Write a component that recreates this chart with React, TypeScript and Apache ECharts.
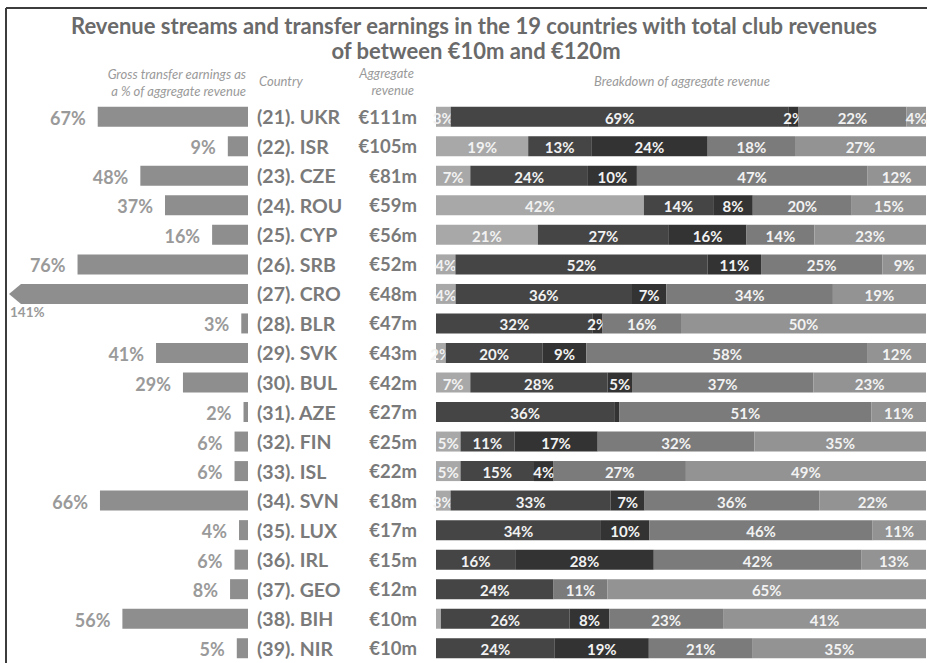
import React, { useEffect, useRef } from "react";
import * as echarts from "echarts";

const countries = [
  "(21). UKR", "(22). ISR", "(23). CZE", "(24). ROU", "(25). CYP", "(26). SRB", "(27). CRO",
  "(28). BLR", "(29). SVK", "(30). BUL", "(31). AZE", "(32). FIN", "(33). ISL", "(34). SVN",
  "(35). LUX", "(36). IRL", "(37). GEO", "(38). BIH", "(39). NIR",
];
const revenues = [
  "€111m", "€105m", "€81m", "€59m", "€56m", "€52m", "€48m", "€47m", "€43m", "€42m",
  "€27m", "€25m", "€22m", "€18m", "€17m", "€15m", "€12m", "€10m", "€10m",
];
const transferPct = [67, 9, 48, 37, 16, 76, 141, 3, 41, 29, 2, 6, 6, 66, 4, 6, 8, 56, 5];

// Breakdown of aggregate revenue (five revenue streams, left to right)
const streamA = [3, 19, 7, 42, 21, 4, 4, 0, 2, 7, 0, 5, 5, 3, 0, 0, 0, 1, 0];
const streamB = [69, 13, 24, 14, 27, 52, 36, 32, 20, 28, 36, 11, 15, 33, 34, 16, 24, 26, 24];
const streamC = [2, 24, 10, 8, 16, 11, 7, 2, 9, 5, 1, 17, 4, 7, 10, 28, 0, 8, 19];
const streamD = [22, 18, 47, 20, 14, 25, 34, 16, 58, 37, 51, 32, 27, 36, 46, 42, 11, 23, 21];
const streamE = [4, 27, 12, 15, 23, 9, 19, 50, 12, 23, 11, 35, 49, 22, 11, 13, 65, 41, 35];

const streams = [streamA, streamB, streamC, streamD, streamE];
const streamColors = ["#a8a8a8", "#454545", "#333333", "#7b7b7b", "#939393"];

const FONT = "Lato, 'Open Sans', sans-serif";
const LEFT_MAX = 107;

export default function App() {
  const ref = useRef<HTMLDivElement>(null);

  useEffect(() => {
    if (!ref.current) return;
    const chart = echarts.init(ref.current, undefined, { renderer: "svg" });

    const leftData = transferPct.map((v, i) => [v, i]);
    const breakdownData = countries.map((_, i) => [i, ...streams.map((s) => s[i])]);

    const option: any = {
      animation: false,
      backgroundColor: "#ffffff",
      textStyle: { fontFamily: FONT },
      grid: [
        { left: 8, width: 240, top: 102, height: 561 },
        { left: 436, right: 1, top: 102, height: 561 },
      ],
      xAxis: [
        { gridIndex: 0, type: "value", min: 0, max: LEFT_MAX, inverse: true, show: false },
        { gridIndex: 1, type: "value", min: 0, max: 100, show: false },
      ],
      yAxis: [
        {
          gridIndex: 0,
          type: "category",
          data: countries,
          inverse: true,
          position: "right",
          axisLine: { show: false },
          axisTick: { show: false },
          axisLabel: {
            align: "left",
            margin: 9,
            fontFamily: FONT,
            fontWeight: "bold",
            fontSize: 19.5,
            color: "#7a7a7a",
          },
        },
        {
          gridIndex: 1,
          type: "category",
          data: countries,
          inverse: true,
          position: "left",
          axisLine: { show: false },
          axisTick: { show: false },
          axisLabel: {
            align: "right",
            margin: 19,
            fontFamily: FONT,
            fontWeight: "bold",
            fontSize: 18.5,
            color: "#7a7a7a",
            formatter: (_v: string, idx: number) => revenues[idx],
          },
        },
      ],
      series: [
        {
          type: "custom",
          xAxisIndex: 0,
          yAxisIndex: 0,
          clip: false,
          data: leftData,
          renderItem: (params: any, api: any) => {
            const v = api.value(0);
            const idx = api.value(1);
            const [x0, yc] = api.coord([0, idx]);
            const h = 20;
            const labelStyle = {
              fontFamily: FONT,
              fontWeight: "bold",
              fontSize: 18,
              fill: "#9a9a9a",
            };
            if (v > LEFT_MAX) {
              const xl = api.coord([LEFT_MAX, idx])[0];
              return {
                type: "group",
                children: [
                  {
                    type: "polygon",
                    shape: {
                      points: [
                        [xl + 1, yc],
                        [xl + 13, yc - h / 2],
                        [x0, yc - h / 2],
                        [x0, yc + h / 2],
                        [xl + 13, yc + h / 2],
                      ],
                    },
                    style: { fill: "#8e8e8e" },
                  },
                  {
                    type: "text",
                    x: xl + 2,
                    y: yc + 18,
                    style: {
                      ...labelStyle,
                      fontSize: 13.5,
                      text: v + "%",
                      textAlign: "left",
                      textVerticalAlign: "middle",
                    },
                  },
                ],
              };
            }
            const x1 = api.coord([v, idx])[0];
            return {
              type: "group",
              children: [
                {
                  type: "rect",
                  shape: { x: x1, y: yc - h / 2, width: x0 - x1, height: h },
                  style: { fill: "#8e8e8e" },
                },
                {
                  type: "text",
                  x: x1 - 12,
                  y: yc + 1,
                  style: {
                    ...labelStyle,
                    text: v + "%",
                    textAlign: "right",
                    textVerticalAlign: "middle",
                  },
                },
              ],
            };
          },
        },
        {
          type: "custom",
          xAxisIndex: 1,
          yAxisIndex: 1,
          data: breakdownData,
          renderItem: (params: any, api: any) => {
            const idx = api.value(0);
            const vals = [1, 2, 3, 4, 5].map((k) => api.value(k));
            const total = vals.reduce((a: number, b: number) => a + b, 0);
            const h = 20;
            const children: any[] = [];
            let cum = 0;
            vals.forEach((v: number, k: number) => {
              if (v <= 0) return;
              const start = (cum * 100) / total;
              const end = ((cum + v) * 100) / total;
              cum += v;
              const [xs, yc] = api.coord([start, idx]);
              const xe = api.coord([end, idx])[0];
              children.push({
                type: "rect",
                shape: { x: xs, y: yc - h / 2, width: xe - xs, height: h },
                style: { fill: streamColors[k] },
              });
              if (v >= 2) {
                children.push({
                  type: "text",
                  x: (xs + xe) / 2,
                  y: yc + 1,
                  style: {
                    text: v + "%",
                    fontFamily: FONT,
                    fontWeight: "bold",
                    fontSize: 15,
                    fill: "#f2f2f2",
                    textAlign: "center",
                    textVerticalAlign: "middle",
                  },
                });
              }
            });
            return { type: "group", children };
          },
        },
      ],
      graphic: [
        { type: "line", shape: { x1: 6, y1: 8, x2: 927, y2: 8 }, style: { stroke: "#3c3c3c", lineWidth: 2 } },
        { type: "line", shape: { x1: 6, y1: 8, x2: 6, y2: 663 }, style: { stroke: "#3c3c3c", lineWidth: 2 } },
        {
          type: "text",
          x: 474,
          y: 25,
          style: {
            text: "Revenue streams and transfer earnings in the 19 countries with total club revenues",
            fontFamily: FONT,
            fontWeight: "bold",
            fontSize: 22,
            fill: "#6a6a6a",
            textAlign: "center",
            textVerticalAlign: "middle",
          },
        },
        {
          type: "text",
          x: 476,
          y: 50,
          style: {
            text: "of between €10m and €120m",
            fontFamily: FONT,
            fontWeight: "bold",
            fontSize: 22,
            fill: "#6a6a6a",
            textAlign: "center",
            textVerticalAlign: "middle",
          },
        },
        ...[
          { t: "Gross transfer earnings as", x: 246, y: 74, a: "right" },
          { t: "a % of aggregate revenue", x: 246, y: 91, a: "right" },
          { t: "Country", x: 259, y: 81, a: "left" },
          { t: "Aggregate", x: 414, y: 73, a: "right" },
          { t: "revenue", x: 414, y: 90, a: "right" },
          { t: "Breakdown of aggregate revenue", x: 682, y: 81, a: "center" },
        ].map((h) => ({
          type: "text",
          x: h.x,
          y: h.y,
          style: {
            text: h.t,
            fontFamily: FONT,
            fontStyle: "italic",
            fontSize: 13,
            fill: "#9a9a9a",
            textAlign: h.a,
            textVerticalAlign: "middle",
          },
        })),
      ],
    };

    chart.setOption(option);
    return () => chart.dispose();
  }, []);

  return (
    <div
      ref={ref}
      style={{ position: "fixed", left: 0, top: 0, width: 927, height: 663 }}
    />
  );
}
